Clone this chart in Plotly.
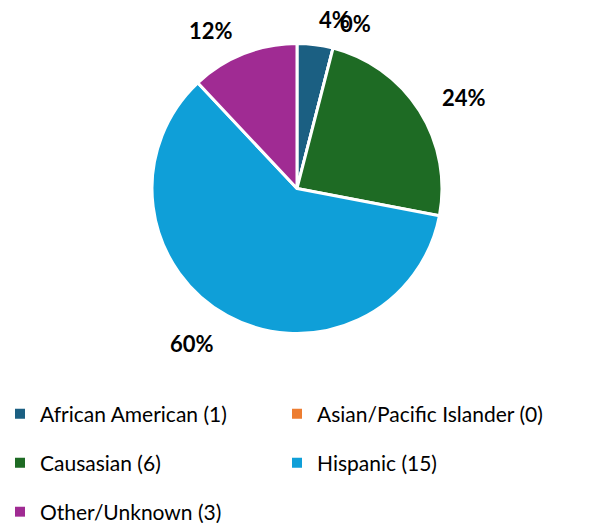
import math
import plotly.graph_objects as go

labels = ["African American", "Asian/Pacific Islander", "Causasian", "Hispanic", "Other/Unknown"]
counts = [1, 0, 6, 15, 3]
colors = ["#1b5f82", "#ed7d31", "#1e6b24", "#0f9fd8", "#a02b93"]
legend_rows = ["legend", "legend", "legend2", "legend2", "legend3"]

W, H = 610, 523
# pie placement (pixels)
CX, CY, R = 297, 188.5, 145

fig = go.Figure()
fig.add_trace(go.Pie(
    labels=labels,
    values=counts,
    sort=False,
    direction="clockwise",
    rotation=0,
    marker=dict(colors=colors, line=dict(color="white", width=3)),
    textinfo="none",
    showlegend=False,
    domain=dict(x=[(CX - R) / W, (CX + R) / W], y=[1 - (CY + R) / H, 1 - (CY - R) / H]),
    hoverinfo="label+value+percent",
))

# percent labels placed just outside each slice, derived from the data
total = sum(counts)
cum = 0
for lab, c in zip(labels, counts):
    frac = c / total
    mid = (cum + frac / 2) * 2 * math.pi
    cum += frac
    dist = R + 25
    px = CX + dist * math.sin(mid)
    py = CY - dist * math.cos(mid) + 7 * max(0.0, -math.cos(mid))
    fig.add_annotation(
        x=px / W, y=1 - py / H, xref="paper", yref="paper",
        text=f"{round(frac * 100)}%", showarrow=False,
        font=dict(family="Lato", size=22, color="black", weight="bold"),
        xanchor="left" if math.sin(mid) >= 0 else "right", yanchor="middle",
        borderpad=0,
    )

# legend entries
for lab, c, col, lg in zip(labels, counts, colors, legend_rows):
    fig.add_trace(go.Scatter(
        x=[None], y=[None], mode="markers", name=f"{lab} ({c})",
        marker=dict(symbol="square", size=10, color=col),
        legend=lg, hoverinfo="skip",
    ))

leg_common = dict(
    orientation="h", xanchor="left", yanchor="middle",
    entrywidth=232, entrywidthmode="pixels",
    font=dict(size=21, family="Lato", color="black"),
    itemclick=False, itemdoubleclick=False,
    bgcolor="rgba(0,0,0,0)",
)

fig.update_layout(
    width=W, height=H,
    margin=dict(l=0, r=0, t=0, b=0, autoexpand=False),
    paper_bgcolor="white", plot_bgcolor="white",
    font=dict(family="Lato", color="black"),
    xaxis=dict(visible=False), yaxis=dict(visible=False),
    legend=dict(x=0, y=1 - 414 / H, **leg_common),
    legend2=dict(x=0, y=1 - 463 / H, **leg_common),
    legend3=dict(x=0, y=1 - 512 / H, **leg_common),
)

fig.write_html("out.html", config={"displayModeBar": False},
               post_script="document.body.style.margin='0';")
